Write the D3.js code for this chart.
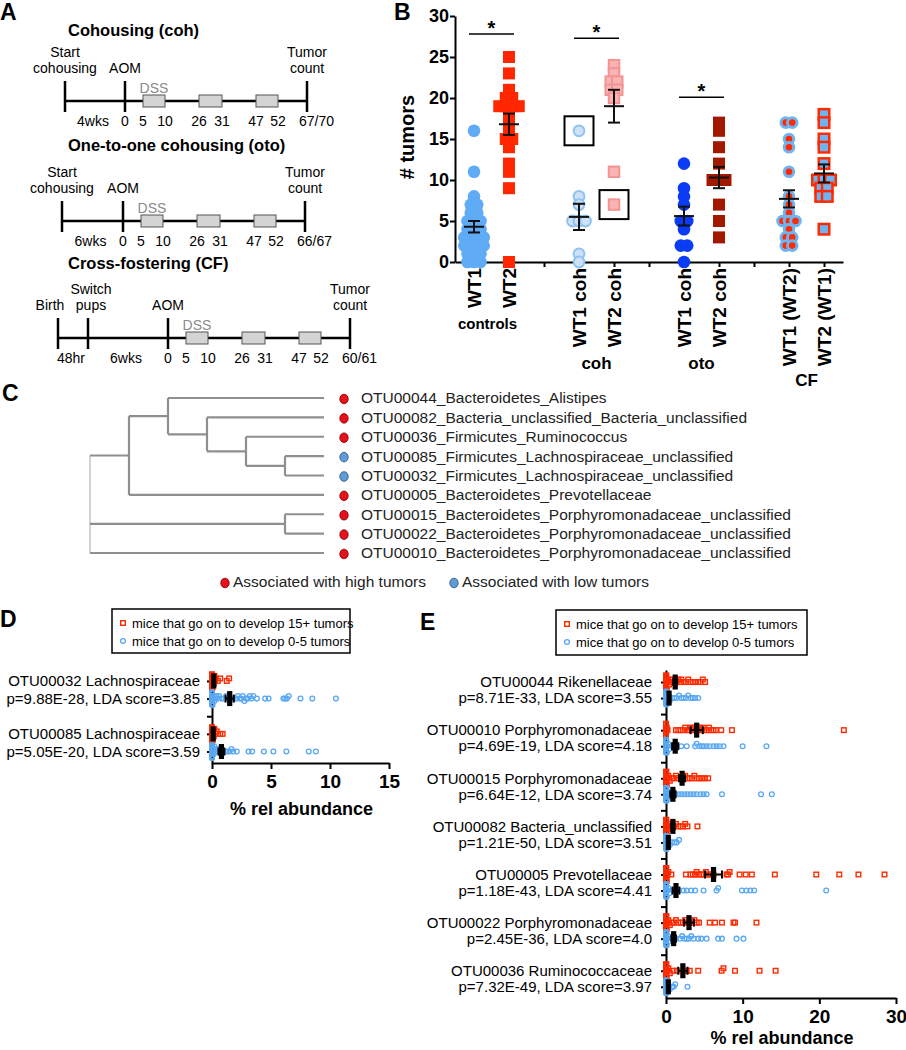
<!DOCTYPE html>
<html>
<head>
<meta charset="utf-8">
<title>Tumor burden and OTU abundance</title>
<script src="https://cdn.jsdelivr.net/npm/d3@7"></script>
<style>
  body { margin: 0; background: #fff; }
  svg { display: block; }
</style>
</head>
<body>
<div id="chart"></div>
<script>
// ---------- A: schedules ----------
const scheduleTitles = ["Cohousing (coh)", "One-to-one cohousing (oto)", "Cross-fostering (CF)"];
const scheduleMarks = [
  [["Start", "cohousing"], ["AOM"], ["Tumor", "count"]],
  [["Start", "cohousing"], ["AOM"], ["Tumor", "count"]],
  [["Birth"], ["Switch", "pups"], ["AOM"], ["Tumor", "count"]]
];
const scheduleGaps = [["4wks"], ["6wks"], ["48hr", "6wks"]];
const scheduleEnds = ["67/70", "66/67", "60/61"];
const dssWindows = [[5, 10], [26, 31], [47, 52]];
const dayTicks = [0, 5, 10, 26, 31, 47, 52];

// ---------- B: tumor counts ----------
const bGroups = ["WT1", "WT2", "WT1 coh", "WT2 coh", "WT1 coh", "WT2 coh", "WT1 (WT2)", "WT2 (WT1)"];
const bSets = ["controls", "coh", "oto", "CF"];
const bTumors = [
  [16, 11, 8, 7, 7, 6, 6, 5, 5, 5, 4, 4, 4, 3, 3, 3, 3, 2, 2, 2, 2, 1, 1, 1, 0, 0, 0],
  [25, 23, 21, 20, 20, 19, 19, 19, 19, 18, 17, 16, 15, 15, 14, 12, 11, 9, 0],
  [16, 8, 7, 5, 5, 5, 1, 0],
  [24, 23, 22, 22, 21, 21, 20, 11, 7],
  [12, 9, 8, 7, 5, 5, 4, 2, 2, 0],
  [17, 16, 14, 12, 10, 10, 10, 7, 5, 3],
  [17, 17, 15, 14, 11, 8, 7, 6, 5, 5, 5, 4, 3, 3, 2, 2],
  [18, 17, 15, 14, 12, 10, 10, 10, 9, 9, 8, 8, 4]
];
const bMean = [4.3, 16.8, 5.5, 19.0, 5.6, 10.3, 7.7, 10.8];
const bSem = [0.7, 1.3, 1.6, 2.0, 1.15, 1.3, 1.05, 1.1];
const bSigPairs = [[0, 1], [2, 3], [4, 5]];
const bSigLevels = [27.8, 27.3, 20.1];
const bBoxed = [[2, 16], [3, 7]];

// ---------- C: OTU tree ----------
const otuNames = [
  "OTU00044_Bacteroidetes_Alistipes",
  "OTU00082_Bacteria_unclassified_Bacteria_unclassified",
  "OTU00036_Firmicutes_Ruminococcus",
  "OTU00085_Firmicutes_Lachnospiraceae_unclassified",
  "OTU00032_Firmicutes_Lachnospiraceae_unclassified",
  "OTU00005_Bacteroidetes_Prevotellaceae",
  "OTU00015_Bacteroidetes_Porphyromonadaceae_unclassified",
  "OTU00022_Bacteroidetes_Porphyromonadaceae_unclassified",
  "OTU00010_Bacteroidetes_Porphyromonadaceae_unclassified"
];
const otuAssoc = ["high", "high", "high", "low", "low", "high", "high", "high", "high"];
const otuTree = [[[0, [1, [2, [3, 4]]]], 5], [6, 7], 8];
const assocLegend = ["Associated with high tumors", "Associated with low tumors"];

// ---------- D / E: relative abundance ----------
const legendItems = ["mice that go on to develop 15+ tumors", "mice that go on to develop 0-5 tumors"];

const dOtu = ["OTU00032 Lachnospiraceae", "OTU00085 Lachnospiraceae"];
const dStats = ["p=9.88E-28, LDA score=3.85", "p=5.05E-20, LDA score=3.59"];
const dHigh = [
  [0, 0, 0, 0, 0, 0, 0, 0, 0, 0, 0, 0, 0, 0.05, 0.1, 0.1, 0.15, 0.2, 0.25, 0.3, 0.5, 0.7, 1.25, 1.45],
  [0, 0, 0, 0, 0, 0, 0, 0, 0, 0, 0, 0, 0, 0.05, 0.1, 0.1, 0.15, 0.2, 0.3, 0.4, 0.7, 0.9]
];
const dLow = [
  [0, 0, 0, 0, 0, 0, 0, 0, 0, 0, 0, 0, 0, 0.05, 0.1, 0.15, 0.2, 0.3, 0.4, 0.5, 0.6, 0.8, 1.0, 1.2, 1.4, 1.6,
   1.8, 2.05, 2.2, 2.35, 2.5, 2.6, 2.75, 2.9, 3.05, 3.2, 3.35, 3.5, 3.8, 4.5, 4.8, 6.05, 6.2, 6.35, 6.5, 7.5, 8.5, 10.5],
  [0, 0, 0, 0, 0, 0, 0, 0, 0, 0, 0, 0, 0, 0, 0.05, 0.1, 0.15, 0.2, 0.3, 0.4, 0.5, 0.6, 0.8, 1.2, 1.35, 1.5,
   1.65, 1.8, 2.1, 3.1, 3.4, 4.4, 5.2, 6.3, 8.2, 8.8]
];
const dHighMean = [0.15, 0.1];
const dHighSem = [0.05, 0.05];
const dLowMean = [1.5, 0.8];
const dLowSem = [0.35, 0.25];

const eOtu = ["OTU00044 Rikenellaceae", "OTU00010 Porphyromonadaceae", "OTU00015 Porphyromonadaceae",
  "OTU00082 Bacteria_unclassified", "OTU00005 Prevotellaceae", "OTU00022 Porphyromonadaceae", "OTU00036 Ruminococcaceae"];
const eStats = ["p=8.71E-33, LDA score=3.55", "p=4.69E-19, LDA score=4.18", "p=6.64E-12, LDA score=3.74",
  "p=1.21E-50, LDA score=3.51", "p=1.18E-43, LDA score=4.41", "p=2.45E-36, LDA score=4.0", "p=7.32E-49, LDA score=3.97"];
const eHigh = [
  [0, 0, 0, 0, 0, 0, 0, 0, 0, 0, 0, 0, 0.05, 0.1, 0.15, 0.2, 0.3, 0.4, 0.6, 0.8, 1.0, 1.2, 1.4, 1.6, 1.8, 2.0,
   2.3, 2.6, 2.9, 3.2, 3.5, 3.8, 4.2, 4.5, 4.8, 5.1],
  [0, 0, 0, 0, 0, 0, 0, 0.05, 0.1, 0.2, 1.3, 1.6, 1.9, 2.2, 2.5, 2.8, 3.0, 3.2, 3.4, 3.6, 3.8, 4.0, 4.2, 4.4,
   4.6, 4.8, 5.0, 5.3, 5.6, 5.9, 6.2, 6.5, 7.2, 8.6, 23.2],
  [0, 0, 0, 0, 0, 0, 0, 0, 0, 0, 0, 0, 0.05, 0.1, 0.15, 0.2, 0.3, 0.5, 0.8, 1.0, 1.3, 1.6, 1.9, 2.2, 2.5, 2.8,
   3.1, 3.4, 3.7, 4.0, 4.3, 4.7, 5.1, 5.5],
  [0, 0, 0, 0, 0, 0, 0, 0, 0, 0, 0, 0, 0.05, 0.1, 0.15, 0.2, 0.3, 0.5, 0.8, 1.0, 1.3, 1.6, 1.9, 2.2, 2.5, 2.8, 4.1],
  [0, 0, 0, 0, 0, 0, 0, 0, 0, 0, 0, 0, 0.05, 0.1, 0.15, 0.2, 0.3, 0.7, 2.6, 3.2, 3.5, 3.8, 4.0, 4.3, 4.6, 4.9,
   5.2, 5.5, 5.8, 6.2, 7.9, 8.1, 8.3, 9.6, 10.4, 11.2, 14.2, 19.6, 22.6, 25.1, 28.5],
  [0, 0, 0, 0, 0, 0, 0, 0, 0, 0, 0, 0, 0.05, 0.1, 0.15, 0.2, 0.3, 0.5, 0.8, 1.0, 1.3, 1.6, 1.9, 2.2, 2.5, 2.8,
   3.1, 3.4, 3.7, 4.0, 4.3, 5.7, 6.4, 7.3, 8.8, 9.0, 11.8],
  [0, 0, 0, 0, 0, 0, 0, 0, 0, 0, 0, 0, 0.05, 0.1, 0.15, 0.2, 0.3, 0.5, 1.0, 1.4, 2.3, 2.7, 3.1, 4.2, 7.25, 7.5,
   9.0, 12.2, 14.3]
];
const eLow = [
  [0, 0, 0, 0, 0, 0, 0, 0, 0, 0, 0, 0, 0.05, 0.1, 0.15, 0.2, 0.3, 0.5, 0.8, 1.1, 1.4, 1.7, 2.0, 2.3, 2.6, 2.9,
   3.2, 3.5, 3.8, 4.2],
  [0, 0, 0, 0, 0, 0, 0, 0, 0, 0, 0, 0, 0.05, 0.1, 0.15, 0.2, 0.3, 0.5, 0.8, 2.0, 2.7, 3.8, 4.0, 4.4, 4.7, 4.9,
   5.3, 5.7, 6.2, 6.6, 7.0, 7.5, 10.0, 13.1],
  [0, 0, 0, 0, 0, 0, 0, 0, 0, 0, 0, 0, 0.05, 0.1, 0.15, 0.2, 0.3, 0.5, 0.9, 1.2, 1.6, 2.0, 2.4, 2.8, 3.2, 3.6,
   4.0, 4.5, 4.9, 5.3, 7.3, 12.4, 13.8],
  [0, 0, 0, 0, 0, 0, 0, 0, 0, 0, 0, 0, 0.05, 0.1, 0.15, 0.2, 0.3, 0.5, 0.8, 1.1, 1.4, 1.7],
  [0, 0, 0, 0, 0, 0, 0, 0, 0, 0, 0, 0, 0.05, 0.1, 0.15, 0.2, 0.3, 0.5, 0.9, 1.3, 1.7, 2.3, 2.7, 3.3, 3.8, 4.9,
   6.6, 6.8, 9.9, 10.5, 11.0, 11.5, 20.9],
  [0, 0, 0, 0, 0, 0, 0, 0, 0, 0, 0, 0, 0.05, 0.1, 0.15, 0.2, 0.3, 0.5, 0.9, 1.3, 1.8, 2.1, 2.4, 2.7, 3.0, 3.3,
   3.6, 4.2, 4.6, 5.3, 6.8, 7.3, 9.2, 10.1],
  [0, 0, 0, 0, 0, 0, 0, 0, 0, 0, 0, 0, 0.05, 0.1, 0.15, 0.2, 0.3, 0.5, 0.8, 1.0, 1.2, 2.8]
];
const eHighMean = [1.2, 4.0, 2.1, 0.9, 6.2, 3.0, 2.2];
const eHighSem = [0.25, 0.8, 0.4, 0.2, 1.1, 0.65, 0.6];
const eLowMean = [0.4, 1.2, 0.9, 0.3, 1.3, 1.0, 0.3];
const eLowSem = [0.15, 0.4, 0.35, 0.1, 0.45, 0.3, 0.1];

// ---------------------------------------------------------------
const FONT = "'Liberation Sans', Arial, Helvetica, sans-serif";
const RED = "#ff2a00", BLUE = "#5aa8f2";

const svg = d3.select("#chart").append("svg")
  .attr("width", 906).attr("height", 1050)
  .style("font-family", FONT);

const letter = (t, x, y) => svg.append("text")
  .attr("x", x).attr("y", y).attr("font-size", 23).attr("font-weight", "bold").text(t);
letter("A", 0, 20); letter("B", 394, 20); letter("C", 2, 401); letter("D", 0, 627); letter("E", 420, 630);

const styleAxis = (g, size) => {
  g.attr("font-family", null).attr("font-size", null);
  g.selectAll("path, line").attr("stroke", "#000").attr("stroke-width", 2);
  g.selectAll("text").attr("font-size", size).attr("font-weight", "bold").attr("fill", "#000");
};

// ---------------- A ----------------
const scheduleLayout = [
  { titleY: 36, lineY: 101, preX: [65], aomX: 125, shift: [0, 0, 0] },
  { titleY: 151, lineY: 221, preX: [62], aomX: 123, shift: [0, 0, 0] },
  { titleY: 269, lineY: 338, preX: [58, 88], aomX: 168, shift: [-8, 3, 0, 0] }
];

scheduleTitles.forEach((title, i) => {
  const L = scheduleLayout[i];
  const g = svg.append("g");
  // schematic (not to scale) day axis, same for every schedule
  const day = d3.scaleLinear()
    .domain([0, 5, 10, 26, 31, 47, 52, 67])
    .range([0, 18, 40, 74, 97, 131, 153, 182].map(o => L.aomX + o));
  const endX = day(67);
  const markX = [...L.preX, L.aomX, endX];

  g.append("text").attr("x", 68).attr("y", L.titleY)
    .attr("font-size", 16.5).attr("font-weight", "bold").text(title);

  g.append("line").attr("x1", markX[0]).attr("x2", endX)
    .attr("y1", L.lineY).attr("y2", L.lineY)
    .attr("stroke", "#000").attr("stroke-width", 2.5);

  markX.forEach((mx, j) => {
    g.append("line").attr("x1", mx).attr("x2", mx)
      .attr("y1", L.lineY - 20).attr("y2", L.lineY + 11)
      .attr("stroke", "#000").attr("stroke-width", 2.5);
    const lines = scheduleMarks[i][j];
    lines.forEach((t, k) => {
      g.append("text").attr("x", mx + L.shift[j])
        .attr("y", L.lineY - 28 - 16 * (lines.length - 1 - k))
        .attr("text-anchor", "middle").attr("font-size", 14).text(t);
    });
  });

  dssWindows.forEach(([a, b]) => {
    g.append("rect").attr("x", day(a)).attr("y", L.lineY - 6)
      .attr("width", day(b) - day(a)).attr("height", 12)
      .attr("fill", "#d4d4d4").attr("stroke", "#555").attr("stroke-width", 1);
  });
  g.append("text").attr("x", (day(dssWindows[0][0]) + day(dssWindows[0][1])) / 2)
    .attr("y", L.lineY - 8).attr("text-anchor", "middle")
    .attr("font-size", 14).attr("fill", "#8a8a8a").text("DSS");

  dayTicks.forEach(d => {
    g.append("text").attr("x", day(d)).attr("y", L.lineY + 25)
      .attr("text-anchor", "middle").attr("font-size", 14).text(d);
  });
  scheduleGaps[i].forEach((t, k) => {
    g.append("text").attr("x", (markX[k] + markX[k + 1]) / 2 - 2).attr("y", L.lineY + 25)
      .attr("text-anchor", "middle").attr("font-size", 14).text(t);
  });
  g.append("text").attr("x", endX - 8).attr("y", L.lineY + 25)
    .attr("font-size", 14).text(scheduleEnds[i]);
});

// ---------------- B ----------------
const bStyle = [
  { shape: "circle", fill: "#5fabf5", stroke: "none", sw: 0, size: 6.3 },
  { shape: "square", fill: "#ff2600", stroke: "none", sw: 0, size: 12 },
  { shape: "circle", fill: "#cde2f8", stroke: "#90c2f2", sw: 2, size: 5.4 },
  { shape: "square", fill: "#f9b3b3", stroke: "#f39494", sw: 2, size: 10.5 },
  { shape: "circle", fill: "#0a3cf5", stroke: "none", sw: 0, size: 6.3 },
  { shape: "square", fill: "#a11a00", stroke: "none", sw: 0, size: 12 },
  { shape: "circle", fill: "#ff2a00", stroke: "#6fb4f2", sw: 3, size: 4.8 },
  { shape: "square", fill: "#6fb4f2", stroke: "#ff2a00", sw: 2.5, size: 10.5 }
];

const xB = d3.scalePoint().domain(d3.range(11)).range([455, 843]).padding(0.543);
const yB = d3.scaleLinear().domain([0, 30]).range([262, 16]);
const slotOf = i => i + Math.floor(i / 2);
const gB = svg.append("g");

gB.append("g").attr("transform", "translate(0,262)")
  .call(d3.axisBottom(xB).tickSize(5).tickSizeOuter(0).tickFormat(""))
  .call(g => styleAxis(g, 18));
gB.append("g").attr("transform", "translate(455,0)")
  .call(d3.axisLeft(yB).tickValues(d3.range(0, 31, 5)).tickSize(5).tickPadding(1).tickSizeOuter(0))
  .call(g => styleAxis(g, 18));

gB.append("text").attr("transform", "translate(407,137) rotate(-90)")
  .attr("text-anchor", "middle").attr("dy", "0.35em")
  .attr("font-size", 20).attr("font-weight", "bold").text("# tumors");

bGroups.forEach((name, i) => {
  gB.append("text").attr("transform", `translate(${xB(slotOf(i))},268) rotate(-90)`)
    .attr("text-anchor", "end").attr("dy", "0.36em")
    .attr("font-size", 19).attr("font-weight", "bold").text(name);
});
const setY = [329, 369, 369, 386];
const setSize = [15, 17, 17, 17];
bSets.forEach((s, k) => {
  const cx = (xB(slotOf(2 * k)) + xB(slotOf(2 * k + 1))) / 2;
  gB.append("text").attr("x", cx - (k === 0 ? 4 : 0)).attr("y", setY[k])
    .attr("text-anchor", "middle").attr("font-size", setSize[k]).attr("font-weight", "bold").text(s);
});

// spread equal values sideways
function spreadX(vals, cx, step) {
  const counts = d3.rollup(vals, v => v.length, d => d);
  const seen = new Map();
  return vals.map(v => {
    const n = counts.get(v), k = seen.get(v) || 0;
    seen.set(v, k + 1);
    return { v, x: cx + (k - (n - 1) / 2) * step };
  });
}

bTumors.forEach((vals, i) => {
  const st = bStyle[i];
  const cx = xB(slotOf(i));
  const pts = spreadX(vals, cx, 6.5);
  const g = gB.append("g");
  if (st.shape === "circle") {
    g.selectAll("circle").data(pts).join("circle")
      .attr("cx", d => d.x).attr("cy", d => yB(d.v)).attr("r", st.size)
      .attr("fill", st.fill).attr("stroke", st.stroke).attr("stroke-width", st.sw);
  } else {
    g.selectAll("rect").data(pts).join("rect")
      .attr("x", d => d.x - st.size / 2).attr("y", d => yB(d.v) - st.size / 2)
      .attr("width", st.size).attr("height", st.size)
      .attr("fill", st.fill).attr("stroke", st.stroke).attr("stroke-width", st.sw);
  }
  // mean +- SEM
  const m = bMean[i], e = bSem[i];
  const bar = [[cx - 10, yB(m), cx + 10, yB(m)], [cx, yB(m - e), cx, yB(m + e)],
    [cx - 6, yB(m - e), cx + 6, yB(m - e)], [cx - 6, yB(m + e), cx + 6, yB(m + e)]];
  bar.forEach(([x1, y1, x2, y2]) => gB.append("line")
    .attr("x1", x1).attr("y1", y1).attr("x2", x2).attr("y2", y2)
    .attr("stroke", "#111").attr("stroke-width", 2));
});

bBoxed.forEach(([gi, v]) => {
  gB.append("rect").attr("x", xB(slotOf(gi)) - 14.5).attr("y", yB(v) - 14.5)
    .attr("width", 29).attr("height", 29)
    .attr("fill", "none").attr("stroke", "#000").attr("stroke-width", 2);
});

bSigPairs.forEach(([a, b], k) => {
  const y = yB(bSigLevels[k]);
  const x1 = xB(slotOf(a)) - 5, x2 = xB(slotOf(b)) + 5;
  gB.append("line").attr("x1", x1).attr("x2", x2).attr("y1", y).attr("y2", y)
    .attr("stroke", "#000").attr("stroke-width", 1.5);
  gB.append("text").attr("x", (x1 + x2) / 2).attr("y", y + 1)
    .attr("text-anchor", "middle").attr("font-size", 20).attr("font-weight", "bold").text("*");
});

// ---------------- C ----------------
const gC = svg.append("g");
const root = d3.hierarchy(otuTree, d => Array.isArray(d) ? d : null);
d3.cluster().size([otuNames.length, 6]).separation(() => 1)(root);
const rowC = d3.scaleLinear().domain([0.5, otuNames.length - 0.5]).range([398, 553]);
const depthC = d3.scaleLinear().domain([0, 6]).range([90, 324]);

root.descendants().forEach(n => {
  if (n.children) {
    const [lo, hi] = d3.extent(n.children, c => c.x);
    gC.append("line").attr("x1", depthC(n.y)).attr("x2", depthC(n.y))
      .attr("y1", rowC(lo)).attr("y2", rowC(hi))
      .attr("stroke", n.parent ? "#8f8f8f" : "#bdbdbd").attr("stroke-width", n.parent ? 2.2 : 1.3);
  }
  if (n.parent) {
    gC.append("line").attr("x1", depthC(n.parent.y)).attr("x2", depthC(n.y))
      .attr("y1", rowC(n.x)).attr("y2", rowC(n.x))
      .attr("stroke", "#8f8f8f").attr("stroke-width", 2.2);
  }
});
const assocColor = { high: "#e8101a", low: "#5f9bd6" };
const assocStroke = { high: "#7a0000", low: "#2d5079" };
root.leaves().forEach(l => {
  const i = l.data, y = rowC(l.x);
  gC.append("ellipse").attr("cx", 344).attr("cy", y + 1).attr("rx", 4.2).attr("ry", 4.8)
    .attr("fill", assocColor[otuAssoc[i]]).attr("stroke", assocStroke[otuAssoc[i]]).attr("stroke-width", 0.8);
  gC.append("text").attr("x", 361).attr("y", y).attr("dy", "0.35em")
    .attr("font-size", 15.5).attr("fill", "#222").text(otuNames[i]);
});
[["high", 225], ["low", 454]].forEach(([k, x], j) => {
  gC.append("ellipse").attr("cx", x).attr("cy", 583).attr("rx", 4.2).attr("ry", 4.8)
    .attr("fill", assocColor[k]).attr("stroke", assocStroke[k]).attr("stroke-width", 0.8);
  gC.append("text").attr("x", x + 8).attr("y", 582).attr("dy", "0.35em")
    .attr("font-size", 15.5).attr("fill", "#222").text(assocLegend[j]);
});

// ---------------- D / E ----------------
function swarm(vals, x, cy) {
  const offs = [0, -2.5, 2.5, -5, 5, -6.5, 6.5];
  const bins = new Map();
  return vals.map(v => {
    const px = x(v), k = Math.round(px / 3);
    const n = bins.get(k) || 0;
    bins.set(k, n + 1);
    return { px, py: cy + offs[n % offs.length] };
  });
}

function drawMarker(g, kind, px, py) {
  if (kind === "high") {
    g.append("rect").attr("x", px - 2.3).attr("y", py - 2.3).attr("width", 4.6).attr("height", 4.6)
      .attr("fill", "none").attr("stroke", RED).attr("stroke-width", 1.4);
  } else {
    g.append("circle").attr("cx", px).attr("cy", py).attr("r", 2.4)
      .attr("fill", "none").attr("stroke", BLUE).attr("stroke-width", 1.3);
  }
}

function drawAbundance(p) {
  const g = svg.append("g");
  const nSlots = p.otu.length * 3 - 1;
  const x = d3.scaleLinear().domain([0, p.xMax]).range([p.left, p.right]);
  const y = d3.scaleLinear().domain([-p.padTop, nSlots - 1 + p.padBottom]).range([p.top, p.bottom]);

  g.append("g").attr("transform", `translate(${p.left},0)`)
    .call(d3.axisLeft(y).tickValues(d3.range(nSlots)).tickSize(5).tickSizeOuter(0).tickFormat(""))
    .call(a => styleAxis(a, 19));
  g.append("g").attr("transform", `translate(0,${p.bottom})`)
    .call(d3.axisBottom(x).tickValues(p.ticks).tickSize(6).tickPadding(6).tickSizeOuter(0))
    .call(a => styleAxis(a, 19));
  g.append("text").attr("x", (p.left + p.right) / 2 + 1).attr("y", p.titleY)
    .attr("text-anchor", "middle").attr("font-size", 18).attr("font-weight", "bold")
    .text("% rel abundance");

  p.otu.forEach((name, i) => {
    g.append("text").attr("x", p.labelX).attr("y", y(i * 3)).attr("dy", "0.35em")
      .attr("text-anchor", "end").attr("font-size", 15).text(name);
    g.append("text").attr("x", p.labelX).attr("y", y(i * 3 + 1)).attr("dy", "0.35em")
      .attr("text-anchor", "end").attr("font-size", 15).text(p.stats[i]);

    const rows = [
      { kind: "high", vals: p.high[i], mean: p.highMean[i], sem: p.highSem[i], cy: y(i * 3) },
      { kind: "low", vals: p.low[i], mean: p.lowMean[i], sem: p.lowSem[i], cy: y(i * 3 + 1) }
    ];
    rows.forEach(r => {
      swarm(r.vals, x, r.cy).forEach(pt => drawMarker(g, r.kind, pt.px, pt.py));
    });
    rows.forEach(r => {
      const x1 = x(Math.max(0, r.mean - r.sem)), x2 = x(r.mean + r.sem);
      g.append("line").attr("x1", x1).attr("x2", x2).attr("y1", r.cy).attr("y2", r.cy)
        .attr("stroke", "#000").attr("stroke-width", 2);
      [x1, x2].forEach(cx => g.append("line").attr("x1", cx).attr("x2", cx)
        .attr("y1", r.cy - 4).attr("y2", r.cy + 4).attr("stroke", "#000").attr("stroke-width", 2));
      g.append("rect").attr("x", x(r.mean) - 2.6).attr("y", r.cy - 7.5)
        .attr("width", 5.2).attr("height", 15).attr("fill", "#000");
    });
  });

  // legend
  const [bx, by, bw, bh] = p.legend;
  g.append("rect").attr("x", bx).attr("y", by).attr("width", bw).attr("height", bh)
    .attr("fill", "#fff").attr("stroke", "#000").attr("stroke-width", 1.5);
  ["high", "low"].forEach((kind, j) => {
    const ly = by + 14 + j * 18;
    drawMarker(g, kind, bx + 11, ly);
    g.append("text").attr("x", bx + 20).attr("y", ly).attr("dy", "0.35em")
      .attr("font-size", 13).text(legendItems[j]);
  });
}

drawAbundance({
  otu: dOtu, stats: dStats, high: dHigh, low: dLow,
  highMean: dHighMean, highSem: dHighSem, lowMean: dLowMean, lowSem: dLowSem,
  left: 212, right: 389, xMax: 15, ticks: [0, 5, 10, 15],
  top: 673, bottom: 763, padTop: 0.45, padBottom: 0.65,
  labelX: 200, titleY: 815, legend: [112, 609, 238, 44]
});

drawAbundance({
  otu: eOtu, stats: eStats, high: eHigh, low: eLow,
  highMean: eHighMean, highSem: eHighSem, lowMean: eLowMean, lowSem: eLowSem,
  left: 666, right: 896, xMax: 30, ticks: [0, 10, 20, 30],
  top: 670, bottom: 998, padTop: 0.75, padBottom: 0.7,
  labelX: 652, titleY: 1044, legend: [556, 610, 251, 45]
});
</script>
</body>
</html>
